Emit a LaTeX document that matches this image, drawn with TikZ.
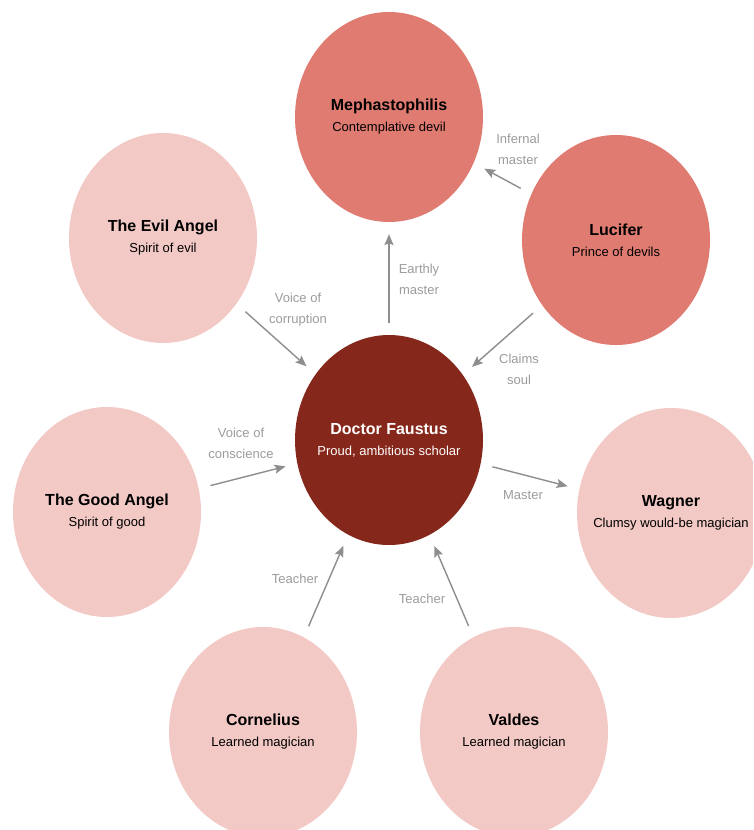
\documentclass[tikz,border=0pt]{standalone}
\usepackage{fontspec}
\setmainfont{Liberation Sans}
\usetikzlibrary{arrows.meta,shapes.geometric}
\definecolor{salmon}{HTML}{E07B71}
\definecolor{faust}{HTML}{86271B}
\definecolor{blush}{HTML}{F2C9C5}
\definecolor{arrowgray}{HTML}{8E8E8E}
\definecolor{labelgray}{HTML}{9C9C9C}
\tikzset{
  person/.style={shape=ellipse, minimum width=188pt, minimum height=210pt,
    inner xsep=-50pt, inner ysep=0pt,
    align=center, font=\fontsize{13}{21}\selectfont, text=black},
  devil/.style={person, fill=salmon},
  minor/.style={person, fill=blush},
  hero/.style={person, fill=faust, text=white},
  rel/.style={draw=arrowgray, line width=1.4pt, -{Stealth[length=11pt,width=9pt,inset=2pt]},
    shorten >=12pt, shorten <=12pt},
  lbl/.style={align=center, text=labelgray, font=\fontsize{13}{21}\selectfont, inner sep=0pt}
}
\newcommand{\ttl}[1]{{\fontsize{16}{21}\selectfont\bfseries #1}}
\begin{document}
\begin{tikzpicture}[x=1pt,y=-1pt]
\clip (0,0) rectangle (753,830);
\fill[white] (0,0) rectangle (753,830);

\node[devil] (meph) at (389,117) {\ttl{Mephastophilis}\\Contemplative devil};
\node[devil] (luc) at (616,240) {\ttl{Lucifer}\\Prince of devils};
\node[minor] (evil) at (163,238) {\ttl{The Evil Angel}\\Spirit of evil};
\node[hero] (faust) at (389,440) {\ttl{Doctor Faustus}\\Proud, ambitious scholar};
\node[minor] (good) at (107,512) {\ttl{The Good Angel}\\Spirit of good};
\node[minor] (wag) at (671,513) {\ttl{Wagner}\\Clumsy would-be magician};
\node[minor] (corn) at (263,732) {\ttl{Cornelius}\\Learned magician};
\node[minor] (vald) at (514,732) {\ttl{Valdes}\\Learned magician};

\draw[rel] (luc) -- (meph);
\draw[rel] (faust) -- (meph);
\draw[rel] (luc) -- (faust);
\draw[rel] (evil) -- (faust);
\draw[rel] (good) -- (faust);
\draw[rel] (faust) -- (wag);
\draw[rel] (corn) -- (faust);
\draw[rel] (vald) -- (faust);

\node[lbl] (l1) at (518,149) {Infernal\\master};
\node[lbl] (l2) at (419,279) {Earthly\\master};
\node[lbl] (l3) at (519,369) {Claims\\soul};
\node[lbl] (l4) at (298,310) {Voice of\\corruption};
\node[lbl] (l5) at (241,443) {Voice of\\conscience};
\node[lbl] (l6) at (523,495) {Master};
\node[lbl] (l7) at (295,579) {Teacher};
\node[lbl] (l8) at (422,599) {Teacher};
\end{tikzpicture}
\end{document}
